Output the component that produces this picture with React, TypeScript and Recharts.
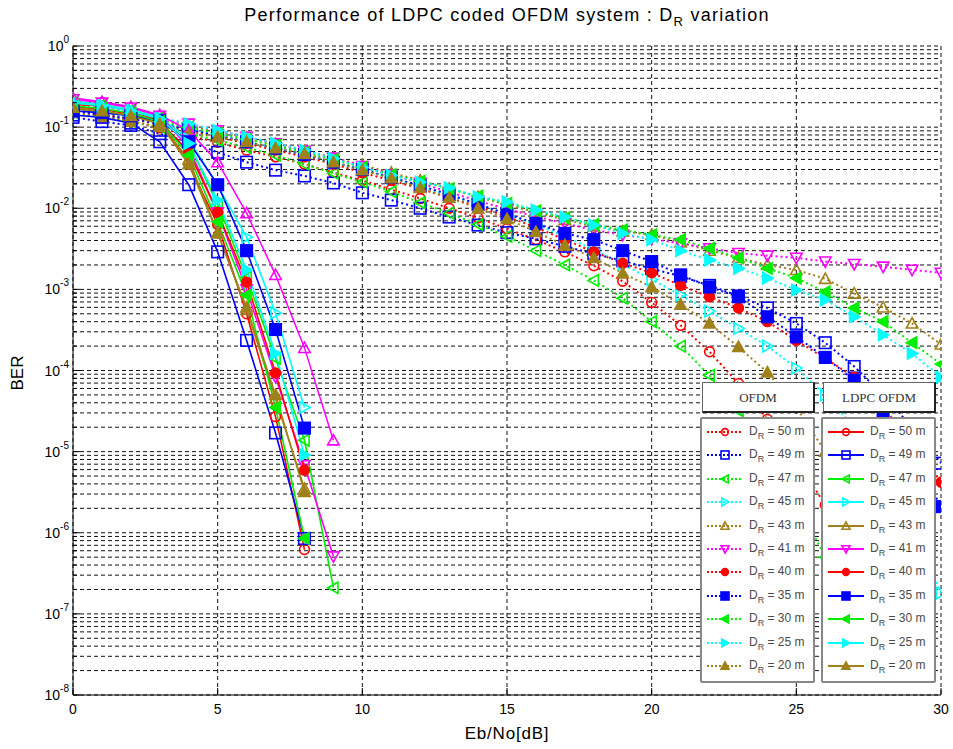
import React from 'react';
import { ComposedChart, Line, XAxis, YAxis, CartesianGrid } from 'recharts';

// Eb/No axis (dB)
const EBNO = [0, 1, 2, 3, 4, 5, 6, 7, 8, 9, 10, 11, 12, 13, 14, 15, 16, 17, 18, 19, 20, 21, 22, 23, 24, 25, 26, 27, 28, 29, 30];
const X_TICKS = [0, 5, 10, 15, 20, 25, 30];
const DECADES = [-8, -7, -6, -5, -4, -3, -2, -1, 0];
const MINOR = [2, 3, 4, 5, 6, 7, 8, 9];

// uncoded OFDM, dotted curves
const ofdm50 = [1.58e-1, 1.38e-1, 1.17e-1, 9.8e-2, 7.9e-2, 6.5e-2, 5.2e-2, 4.3e-2, 3.5e-2, 2.75e-2, 2.2e-2, 1.7e-2, 1.32e-2, 1.0e-2, 7.6e-3, 5.6e-3, 4.1e-3, 2.9e-3, 1.95e-3, 1.26e-3, 6.9e-4, 3.6e-4, 1.7e-4, 6.9e-5, 2.5e-5, 7.9e-6, 2.2e-6, 5e-7, 1e-7];
const ofdm49 = [1.32e-1, 1.17e-1, 1.05e-1, 8.3e-2, 6.6e-2, 4.9e-2, 3.7e-2, 2.95e-2, 2.5e-2, 2.05e-2, 1.55e-2, 1.26e-2, 1.0e-2, 7.8e-3, 6.2e-3, 5.0e-3, 4.2e-3, 3.4e-3, 2.75e-3, 2.25e-3, 1.8e-3, 1.45e-3, 1.12e-3, 8.3e-4, 5.9e-4, 3.8e-4, 2.2e-4, 1.12e-4, 5e-5, 2e-5, 7.2e-6];
const ofdm47 = [1.51e-1, 1.35e-1, 1.17e-1, 1.0e-1, 8.3e-2, 6.9e-2, 5.6e-2, 4.5e-2, 3.5e-2, 2.7e-2, 2.1e-2, 1.6e-2, 1.17e-2, 8.7e-3, 6.3e-3, 4.5e-3, 3.0e-3, 2.0e-3, 1.29e-3, 7.8e-4, 4.0e-4, 2.0e-4, 8.7e-5, 3.2e-5, 1e-5, 2.5e-6, 5e-7, 8e-8];
const ofdm45 = [1.74e-1, 1.51e-1, 1.32e-1, 1.15e-1, 9.5e-2, 7.9e-2, 6.6e-2, 5.5e-2, 4.5e-2, 3.6e-2, 2.95e-2, 2.35e-2, 1.86e-2, 1.45e-2, 1.12e-2, 8.5e-3, 6.3e-3, 4.5e-3, 3.1e-3, 2.05e-3, 1.32e-3, 8.5e-4, 5.4e-4, 3.3e-4, 2.0e-4, 1.07e-4, 5e-5, 2e-5, 6.3e-6, 1.26e-6, 1.8e-7];
const ofdm43 = [1.82e-1, 1.62e-1, 1.41e-1, 1.23e-1, 1.05e-1, 8.7e-2, 7.4e-2, 6.2e-2, 5.1e-2, 4.2e-2, 3.4e-2, 2.75e-2, 2.2e-2, 1.74e-2, 1.38e-2, 1.1e-2, 8.9e-3, 7.2e-3, 6.0e-3, 5.2e-3, 4.7e-3, 3.8e-3, 3.0e-3, 2.45e-3, 2.0e-3, 1.74e-3, 1.35e-3, 8.9e-4, 6.0e-4, 3.8e-4, 2.1e-4];
const ofdm41 = [1.9e-1, 1.7e-1, 1.48e-1, 1.29e-1, 1.1e-1, 9.1e-2, 7.6e-2, 6.3e-2, 5.1e-2, 4.2e-2, 3.3e-2, 2.6e-2, 2.05e-2, 1.58e-2, 1.23e-2, 9.8e-3, 7.9e-3, 6.5e-3, 5.4e-3, 4.7e-3, 4.2e-3, 3.7e-3, 3.2e-3, 2.8e-3, 2.6e-3, 2.45e-3, 2.2e-3, 2.05e-3, 1.9e-3, 1.74e-3, 1.6e-3];
const ofdm40 = [1.66e-1, 1.45e-1, 1.26e-1, 1.1e-1, 9.1e-2, 7.6e-2, 6.3e-2, 5.2e-2, 4.3e-2, 3.5e-2, 2.75e-2, 2.2e-2, 1.74e-2, 1.35e-2, 1.05e-2, 7.9e-3, 5.8e-3, 4.1e-3, 2.9e-3, 2.1e-3, 1.6e-3, 1.12e-3, 8.1e-4, 5.9e-4, 4.0e-4, 2.35e-4, 1.41e-4, 8.3e-5, 3.5e-5, 1.32e-5, 4.2e-6];
const ofdm35 = [1.58e-1, 1.41e-1, 1.26e-1, 1.1e-1, 9.3e-2, 7.9e-2, 6.6e-2, 5.5e-2, 4.6e-2, 3.7e-2, 3.0e-2, 2.4e-2, 1.9e-2, 1.48e-2, 1.12e-2, 8.5e-3, 6.5e-3, 4.9e-3, 4.1e-3, 3.0e-3, 2.2e-3, 1.51e-3, 1.07e-3, 8.1e-4, 4.6e-4, 2.6e-4, 1.45e-4, 7.6e-5, 3.2e-5, 1e-5, 2.1e-6];
const ofdm30 = [1.74e-1, 1.55e-1, 1.35e-1, 1.17e-1, 1.0e-1, 8.3e-2, 7.1e-2, 5.9e-2, 4.9e-2, 4.0e-2, 3.2e-2, 2.6e-2, 2.15e-2, 1.74e-2, 1.41e-2, 1.15e-2, 9.3e-3, 7.6e-3, 6.3e-3, 5.4e-3, 4.7e-3, 4.1e-3, 3.2e-3, 2.45e-3, 1.82e-3, 1.38e-3, 9.3e-4, 5.9e-4, 4.0e-4, 2.2e-4, 1.2e-4];
const ofdm25 = [1.9e-1, 1.7e-1, 1.48e-1, 1.29e-1, 1.1e-1, 9.1e-2, 7.6e-2, 6.3e-2, 5.2e-2, 4.1e-2, 3.2e-2, 2.55e-2, 2.1e-2, 1.78e-2, 1.38e-2, 1.2e-2, 9.5e-3, 7.8e-3, 6.2e-3, 4.9e-3, 4.1e-3, 3.0e-3, 2.3e-3, 1.82e-3, 1.38e-3, 9.8e-4, 7.4e-4, 4.6e-4, 2.75e-4, 1.62e-4, 8.3e-5];
const ofdm20 = [1.51e-1, 1.32e-1, 1.17e-1, 1.02e-1, 8.7e-2, 7.6e-2, 6.6e-2, 5.5e-2, 4.7e-2, 3.7e-2, 2.95e-2, 2.35e-2, 1.78e-2, 1.35e-2, 1.0e-2, 7.4e-3, 5.1e-3, 3.5e-3, 2.45e-3, 1.58e-3, 1.07e-3, 6.5e-4, 3.8e-4, 1.95e-4, 9.5e-5, 3.5e-5, 1e-5, 2e-6, 3.2e-7, 4e-8];

// LDPC coded OFDM, solid curves (start at 0 dB)
const ldpc50 = [1.9e-1, 1.82e-1, 1.58e-1, 1.2e-1, 3.5e-2, 6.3e-3, 5e-4, 2.7e-5, 6.2e-7];
const ldpc49 = [1.41e-1, 1.32e-1, 1.12e-1, 6.6e-2, 1.95e-2, 2.9e-3, 2.35e-4, 1.7e-5, 8.5e-7];
const ldpc47 = [2.0e-1, 1.86e-1, 1.62e-1, 1.32e-1, 6.3e-2, 1.12e-2, 1.41e-3, 1.41e-4, 1.38e-5, 2.1e-7];
const ldpc45 = [2.1e-1, 1.9e-1, 1.66e-1, 1.32e-1, 7.1e-2, 1.9e-2, 4.4e-3, 5.1e-4, 3.5e-5];
const ldpc43 = [1.66e-1, 1.58e-1, 1.38e-1, 1.12e-1, 4.0e-2, 5.0e-3, 5.6e-4, 4.5e-5, 3.5e-6];
const ldpc41 = [2.2e-1, 2.0e-1, 1.74e-1, 1.38e-1, 5.6e-2, 8.9e-3, 1.0e-3, 8.3e-5, 6.8e-6, 5.1e-7];
const ldpc40 = [1.78e-1, 1.66e-1, 1.45e-1, 1.17e-1, 5.0e-2, 8.9e-3, 1.23e-3, 9.3e-5, 5.9e-6];
const ldpc35 = [1.58e-1, 1.51e-1, 1.38e-1, 1.2e-1, 6.6e-2, 1.95e-2, 3.0e-3, 3.2e-4, 1.95e-5];
const ldpc30 = [1.82e-1, 1.7e-1, 1.48e-1, 1.17e-1, 4.5e-2, 6.8e-3, 8.5e-4, 3.5e-5, 8.5e-7];
const ldpc25 = [2.0e-1, 1.82e-1, 1.58e-1, 1.26e-1, 6.3e-2, 1.26e-2, 1.74e-3, 1.62e-4, 9.1e-6];
const ldpc20 = [1.74e-1, 1.58e-1, 1.38e-1, 1.1e-1, 3.5e-2, 4.9e-3, 6.0e-4, 5.0e-5, 3.2e-6];
// extra magenta curve with up-triangles, not in the legend
const ldpcExtra = [2.3e-1, 2.05e-1, 1.78e-1, 1.41e-1, 9.1e-2, 3.7e-2, 8.7e-3, 1.51e-3, 1.9e-4, 1.38e-5];

const RED = '#ff0000';
const BLUE = '#0000ff';
const GREEN = '#00ee00';
const CYAN = '#00ffff';
const OLIVE = '#a08018';
const MAGENTA = '#ff00ff';

type Shape = 'o' | 's' | '<' | '>' | '^' | 'v';
interface Series {
  dr: number;
  color: string;
  shape: Shape;
  filled: boolean;
  values: number[];
}

const STYLES: { dr: number; color: string; shape: Shape; filled: boolean }[] = [
  { dr: 50, color: RED, shape: 'o', filled: false },
  { dr: 49, color: BLUE, shape: 's', filled: false },
  { dr: 47, color: GREEN, shape: '<', filled: false },
  { dr: 45, color: CYAN, shape: '>', filled: false },
  { dr: 43, color: OLIVE, shape: '^', filled: false },
  { dr: 41, color: MAGENTA, shape: 'v', filled: false },
  { dr: 40, color: RED, shape: 'o', filled: true },
  { dr: 35, color: BLUE, shape: 's', filled: true },
  { dr: 30, color: GREEN, shape: '<', filled: true },
  { dr: 25, color: CYAN, shape: '>', filled: true },
  { dr: 20, color: OLIVE, shape: '^', filled: true },
];

const OFDM_VALUES = [ofdm50, ofdm49, ofdm47, ofdm45, ofdm43, ofdm41, ofdm40, ofdm35, ofdm30, ofdm25, ofdm20];
const LDPC_VALUES = [ldpc50, ldpc49, ldpc47, ldpc45, ldpc43, ldpc41, ldpc40, ldpc35, ldpc30, ldpc25, ldpc20];

const OFDM_SERIES: Series[] = STYLES.map((st, i) => ({ ...st, values: OFDM_VALUES[i] }));
const LDPC_SERIES: Series[] = STYLES.map((st, i) => ({ ...st, values: LDPC_VALUES[i] }));
const EXTRA: Series = { dr: 0, color: MAGENTA, shape: '^', filled: false, values: ldpcExtra };

const Y_TICKS = DECADES.flatMap((e) => (e === 0 ? [1] : [1, ...MINOR].map((m) => m * Math.pow(10, e))));

const FONT = '"Liberation Sans", Arial, Helvetica, sans-serif';

const toPoints = (values: number[]) => values.map((v, i) => ({ snr: EBNO[i], ber: v }));

function Marker({ cx, cy, shape, color, filled, size }: { cx: number; cy: number; shape: Shape; color: string; filled: boolean; size: number }) {
  const h = size / 2;
  const p = { stroke: color, strokeWidth: 1.6, fill: filled ? color : 'none' };
  switch (shape) {
    case 'o':
      return <circle cx={cx} cy={cy} r={h * 0.85} {...p} />;
    case 's':
      return <rect x={cx - h} y={cy - h} width={size} height={size} {...p} />;
    case '^':
      return <polygon points={`${cx},${cy - h} ${cx + h},${cy + h * 0.8} ${cx - h},${cy + h * 0.8}`} {...p} />;
    case 'v':
      return <polygon points={`${cx},${cy + h} ${cx + h},${cy - h * 0.8} ${cx - h},${cy - h * 0.8}`} {...p} />;
    case '<':
      return <polygon points={`${cx - h},${cy} ${cx + h * 0.8},${cy - h} ${cx + h * 0.8},${cy + h}`} {...p} />;
    default:
      return <polygon points={`${cx + h},${cy} ${cx - h * 0.8},${cy - h} ${cx - h * 0.8},${cy + h}`} {...p} />;
  }
}

const renderDot = (s: Series, tag: string) => (props: any) => {
  const { cx, cy, index } = props;
  if (cx == null || cy == null) return <g key={`${tag}-${index}`} />;
  return (
    <g key={`${tag}-${index}`}>
      <Marker cx={cx} cy={cy} shape={s.shape} color={s.color} filled={s.filled} size={11.5} />
    </g>
  );
};

const isDecade = (v: number) => Math.abs(Math.log10(v) - Math.round(Math.log10(v))) < 1e-6;

function LeftTick(props: any) {
  const { x, y, payload } = props;
  const v = payload.value;
  const major = isDecade(v);
  return (
    <g>
      <line x1={x} x2={x + (major ? 7 : 4)} y1={y} y2={y} stroke="#000" />
      {major && (
        <text x={x - 4} y={y + 5} textAnchor="end" fontSize={14} fontFamily={FONT} fill="#000">
          10
          <tspan dy={-8} fontSize={10}>
            {String(Math.round(Math.log10(v)))}
          </tspan>
        </text>
      )}
    </g>
  );
}

function RightTick(props: any) {
  const { x, y, payload } = props;
  const major = isDecade(payload.value);
  return <line x1={x} x2={x - (major ? 7 : 4)} y1={y} y2={y} stroke="#000" />;
}

function BottomTick(props: any) {
  const { x, y, payload } = props;
  return (
    <g>
      <line x1={x} x2={x} y1={y} y2={y - 7} stroke="#000" />
      <text x={x} y={y + 19} textAnchor="middle" fontSize={14} fontFamily={FONT} fill="#000">
        {payload.value}
      </text>
    </g>
  );
}

function TopTick(props: any) {
  const { x, y } = props;
  return <line x1={x} x2={x} y1={y} y2={y + 7} stroke="#000" />;
}

function DrLabel({ dr }: { dr: number }) {
  return (
    <span style={{ fontFamily: FONT, fontSize: 12, color: '#4a4a4a', whiteSpace: 'nowrap' }}>
      D<span style={{ fontSize: 9, position: 'relative', top: 4 }}>R</span> = {dr} m
    </span>
  );
}

function LegendColumn({ left, title, series, dotted }: { left: number; title: string; series: Series[]; dotted: boolean }) {
  return (
    <>
      <div
        style={{
          position: 'absolute',
          left: left + 2,
          top: 0,
          width: 113,
          height: 31,
          boxSizing: 'border-box',
          background: '#fff',
          border: '1px solid #666',
          borderRight: '2px solid #222',
          borderBottom: '2px solid #222',
          fontFamily: '"Liberation Serif", "Times New Roman", serif',
          fontSize: 13,
          color: '#333',
          textAlign: 'center',
          lineHeight: '29px',
        }}
      >
        {title}
      </div>
      <div
        style={{
          position: 'absolute',
          left,
          top: 35,
          width: 115,
          height: 266,
          boxSizing: 'border-box',
          background: '#fff',
          border: '2px solid #888',
          borderRadius: 2,
        }}
      >
        {series.map((s, i) => (
          <div key={s.dr} style={{ position: 'absolute', left: 4, top: 13 + i * 23.4 - 8, height: 16, display: 'flex', alignItems: 'center' }}>
            <svg width={38} height={16} style={{ display: 'block' }}>
              <line x1={1} x2={37} y1={8} y2={8} stroke={s.color} strokeWidth={1.8} strokeDasharray={dotted ? '2 2' : undefined} />
              <Marker cx={19} cy={8} shape={s.shape} color={s.color} filled={s.filled} size={8} />
            </svg>
            <div style={{ marginLeft: 5, marginTop: -4 }}>
              <DrLabel dr={s.dr} />
            </div>
          </div>
        ))}
      </div>
    </>
  );
}

export default function App() {
  return (
    <div style={{ position: 'absolute', left: 0, top: 0, width: 953, height: 749, background: '#fff', overflow: 'hidden' }}>
      <ComposedChart width={953} height={749} margin={{ top: 46, right: 12, bottom: 6, left: 13 }}>
        <CartesianGrid stroke="#111" strokeWidth={1} strokeDasharray="4 3" />
        <XAxis
          xAxisId={0}
          dataKey="snr"
          type="number"
          domain={[0, 30]}
          ticks={X_TICKS}
          interval={0}
          height={48}
          tickSize={0}
          tickMargin={0}
          tick={<BottomTick />}
          axisLine={{ stroke: '#000' }}
          allowDataOverflow
        />
        <XAxis
          xAxisId="top"
          orientation="top"
          type="number"
          domain={[0, 30]}
          ticks={X_TICKS}
          interval={0}
          height={0}
          tickSize={0}
          tickMargin={0}
          tick={<TopTick />}
          axisLine={{ stroke: '#000' }}
          allowDataOverflow
        />
        <YAxis
          yAxisId={0}
          type="number"
          scale="log"
          domain={[1e-8, 1]}
          ticks={Y_TICKS}
          interval={0}
          width={60}
          tickSize={0}
          tickMargin={0}
          tick={<LeftTick />}
          axisLine={{ stroke: '#000' }}
        />
        <YAxis
          yAxisId="right"
          orientation="right"
          type="number"
          scale="log"
          domain={[1e-8, 1]}
          ticks={Y_TICKS}
          interval={0}
          width={0}
          tickSize={0}
          tickMargin={0}
          tick={<RightTick />}
          axisLine={{ stroke: '#000' }}
          allowDataOverflow
        />
        {OFDM_SERIES.map((s) => (
          <Line
            key={`ofdm-${s.dr}`}
            data={toPoints(s.values)}
            dataKey="ber"
            type="linear"
            stroke={s.color}
            strokeWidth={2}
            strokeDasharray="2 3"
            dot={renderDot(s, `o${s.dr}`)}
            activeDot={false}
            legendType="none"
            isAnimationActive={false}
          />
        ))}
        <Line
          key="ldpc-extra"
          data={toPoints(EXTRA.values)}
          dataKey="ber"
          type="linear"
          stroke={EXTRA.color}
          strokeWidth={1.5}
          dot={renderDot(EXTRA, 'extra')}
          activeDot={false}
          legendType="none"
          isAnimationActive={false}
        />
        {LDPC_SERIES.map((s) => (
          <Line
            key={`ldpc-${s.dr}`}
            data={toPoints(s.values)}
            dataKey="ber"
            type="linear"
            stroke={s.color}
            strokeWidth={1.6}
            dot={renderDot(s, `l${s.dr}`)}
            activeDot={false}
            legendType="none"
            isAnimationActive={false}
          />
        ))}
      </ComposedChart>

      <div
        style={{
          position: 'absolute',
          left: 207,
          top: 5,
          width: 600,
          textAlign: 'center',
          fontFamily: FONT,
          fontSize: 18,
          letterSpacing: 1.25,
          color: '#000',
          lineHeight: '20px',
        }}
      >
        Performance of LDPC coded OFDM system : D<span style={{ fontSize: 13, position: 'relative', top: 5 }}>R</span> variation
      </div>
      <div
        style={{
          position: 'absolute',
          left: -22,
          top: 362,
          width: 80,
          height: 22,
          textAlign: 'center',
          fontFamily: FONT,
          fontSize: 17,
          lineHeight: '22px',
          transform: 'rotate(-90deg)',
        }}
      >
        BER
      </div>
      <div
        style={{
          position: 'absolute',
          left: 407,
          top: 724,
          width: 200,
          textAlign: 'center',
          fontFamily: FONT,
          fontSize: 17,
          letterSpacing: 0.8,
          lineHeight: '20px',
        }}
      >
        Eb/No[dB]
      </div>

      <div style={{ position: 'absolute', left: 700, top: 382, width: 237, height: 302 }}>
        <LegendColumn left={0} title="OFDM" series={OFDM_SERIES} dotted />
        <LegendColumn left={121} title="LDPC OFDM" series={LDPC_SERIES} dotted={false} />
      </div>
    </div>
  );
}
